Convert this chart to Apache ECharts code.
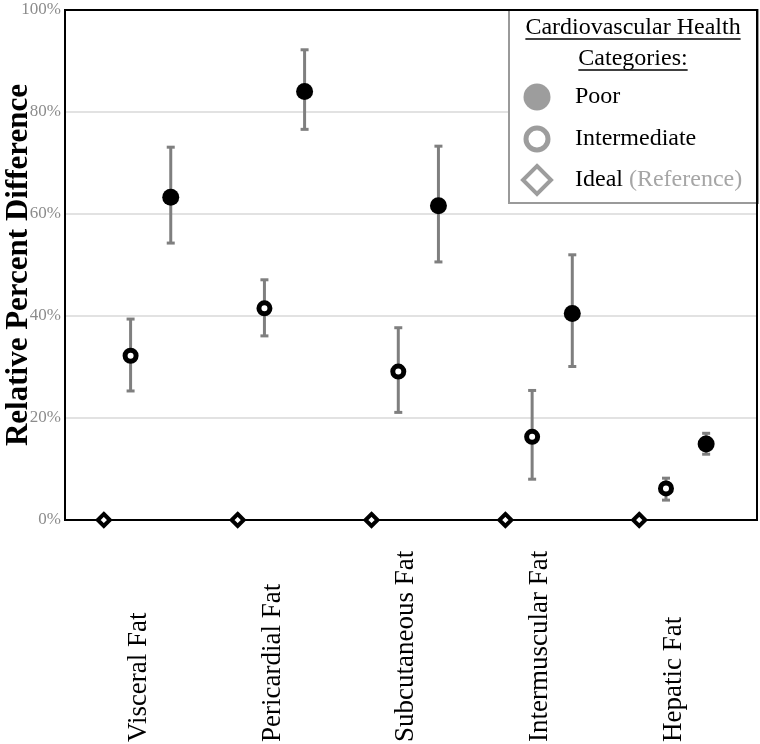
<!DOCTYPE html>
<html>
<head>
<meta charset="utf-8">
<script src="https://cdn.jsdelivr.net/npm/echarts@6/dist/echarts.min.js"></script>
<style>
  html, body { margin: 0; padding: 0; background: #fff; }
  #chart { width: 760px; height: 744px; }
</style>
</head>
<body>
<div id="chart"></div>
<script>
// data
const categories = ['Visceral Fat', 'Pericardial Fat', 'Subcutaneous Fat', 'Intermuscular Fat', 'Hepatic Fat'];
const idealValues = [0, 0, 0, 0, 0];
const intermediateValues = [32.2, 41.5, 29.1, 16.3, 6.2];
const intermediateLower = [25.3, 36.1, 21.1, 8.0, 3.9];
const intermediateUpper = [39.4, 47.1, 37.7, 25.4, 8.2];
const poorValues = [63.3, 84.0, 61.6, 40.5, 14.9];
const poorLower = [54.3, 76.6, 50.6, 30.1, 12.9];
const poorUpper = [73.1, 92.2, 73.3, 52.0, 17.0];
const yTicks = [0, 20, 40, 60, 80, 100];

// dodge offsets inside each category group
const offsetIdeal = 0;
const offsetIntermediate = 0.2;
const offsetPoor = 0.5;
const offsetLabel = 0.26;

const serif = "'Liberation Serif', 'Times New Roman', serif";
const barGray = '#7f7f7f';

const chart = echarts.init(document.getElementById('chart'), null, { renderer: 'canvas' });

function points(values, offset) {
    return values.map((v, i) => [i + offset, v]);
}

function bars(lower, upper, offset) {
    return lower.map((lo, i) => [i + offset, lo, upper[i]]);
}

function renderErrorBar(params, api) {
    const x = api.value(0);
    const lo = api.coord([x, api.value(1)]);
    const hi = api.coord([x, api.value(2)]);
    const cap = 4;
    const style = { stroke: barGray, lineWidth: 3 };
    return {
        type: 'group',
        children: [
            { type: 'line', shape: { x1: lo[0], y1: lo[1], x2: hi[0], y2: hi[1] }, style: style },
            { type: 'line', shape: { x1: lo[0] - cap, y1: lo[1], x2: lo[0] + cap, y2: lo[1] }, style: style },
            { type: 'line', shape: { x1: hi[0] - cap, y1: hi[1], x2: hi[0] + cap, y2: hi[1] }, style: style }
        ]
    };
}

// legend drawn by hand (gray icons, underlined title)
const measure = document.createElement('canvas').getContext('2d');
function textWidth(str, font) {
    measure.font = font;
    return measure.measureText(str).width;
}
const legendFont = '24px ' + serif;
const legendX = 508, legendY = 9, legendW = 249, legendH = 193;
const titleCx = 633;
const title1 = 'Cardiovascular Health';
const title2 = 'Categories:';
const w1 = textWidth(title1, legendFont);
const w2 = textWidth(title2, legendFont);
const iconX = 537, textX = 575;
const rowY = [97, 139, 180];

const legendGraphic = [
    {
        type: 'rect', left: legendX, top: legendY, z: 50,
        shape: { width: legendW, height: legendH },
        style: { fill: '#fff', stroke: '#9a9a9a', lineWidth: 2 }
    },
    {
        type: 'text', x: titleCx, y: 28, z: 51,
        style: { text: title1, font: legendFont, fill: '#000', align: 'center', verticalAlign: 'middle' }
    },
    {
        type: 'line', z: 51,
        shape: { x1: titleCx - w1 / 2, y1: 39, x2: titleCx + w1 / 2, y2: 39 },
        style: { stroke: '#000', lineWidth: 1.5 }
    },
    {
        type: 'text', x: titleCx, y: 59, z: 51,
        style: { text: title2, font: legendFont, fill: '#000', align: 'center', verticalAlign: 'middle' }
    },
    {
        type: 'line', z: 51,
        shape: { x1: titleCx - w2 / 2, y1: 70, x2: titleCx + w2 / 2, y2: 70 },
        style: { stroke: '#000', lineWidth: 1.5 }
    },
    {
        type: 'circle', z: 51,
        shape: { cx: iconX, cy: rowY[0], r: 13.5 },
        style: { fill: '#9d9d9d' }
    },
    {
        type: 'text', x: textX, y: rowY[0], z: 51,
        style: { text: 'Poor', font: legendFont, fill: '#000', verticalAlign: 'middle' }
    },
    {
        type: 'circle', z: 51,
        shape: { cx: iconX, cy: rowY[1], r: 11 },
        style: { fill: '#fff', stroke: '#9d9d9d', lineWidth: 5 }
    },
    {
        type: 'text', x: textX, y: rowY[1], z: 51,
        style: { text: 'Intermediate', font: legendFont, fill: '#000', verticalAlign: 'middle' }
    },
    {
        type: 'polygon', z: 51,
        shape: { points: [[iconX, rowY[2] - 14], [iconX + 14, rowY[2]], [iconX, rowY[2] + 14], [iconX - 14, rowY[2]]] },
        style: { fill: '#fff', stroke: '#9d9d9d', lineWidth: 4 }
    },
    {
        type: 'text', x: textX, y: rowY[2], z: 51,
        style: {
            text: '{a|Ideal} {b|(Reference)}', font: legendFont, verticalAlign: 'middle',
            rich: {
                a: { font: legendFont, fill: '#000' },
                b: { font: legendFont, fill: '#a6a6a6' }
            }
        }
    }
];

const option = {
    animation: false,
    backgroundColor: '#fff',
    grid: {
        left: 65, right: 3, top: 10, bottom: 224,
        containLabel: false,
        outerBoundsMode: 'none',
        show: true, borderColor: '#000', borderWidth: 2, z: 60
    },
    xAxis: {
        type: 'value',
        min: -0.29,
        max: 4.88,
        axisLine: { show: true, onZero: false, lineStyle: { color: '#000', width: 2 } },
        axisTick: { show: false },
        splitLine: { show: false },
        axisLabel: {
            customValues: categories.map((c, i) => i + offsetLabel),
            formatter: v => categories[Math.round(v - offsetLabel)],
            rotate: 90,
            align: 'left',
            verticalAlign: 'middle',
            margin: 222,
            color: '#000',
            fontFamily: serif,
            fontSize: 27
        }
    },
    yAxis: {
        type: 'value',
        min: yTicks[0],
        max: yTicks[yTicks.length - 1],
        interval: 20,
        name: 'Relative Percent Difference',
        nameLocation: 'middle',
        nameGap: 31,
        nameMoveOverlap: false,
        nameTextStyle: { fontFamily: serif, fontWeight: 'bold', fontSize: 31, color: '#000' },
        axisLine: { show: true, onZero: false, lineStyle: { color: '#000', width: 2 } },
        axisTick: { show: false },
        splitLine: { show: true, lineStyle: { color: '#d9d9d9', width: 1.5 } },
        axisLabel: {
            formatter: '{value}%',
            color: '#8c8c8c',
            fontFamily: serif,
            fontSize: 17,
            margin: 4
        }
    },
    series: [
        {
            name: 'Intermediate CI',
            type: 'custom',
            renderItem: renderErrorBar,
            encode: { x: 0, y: [1, 2] },
            data: bars(intermediateLower, intermediateUpper, offsetIntermediate),
            z: 2
        },
        {
            name: 'Poor CI',
            type: 'custom',
            renderItem: renderErrorBar,
            encode: { x: 0, y: [1, 2] },
            data: bars(poorLower, poorUpper, offsetPoor),
            z: 2
        },
        {
            name: 'Poor',
            type: 'scatter',
            symbol: 'circle',
            symbolSize: 17,
            itemStyle: { color: '#000', opacity: 1 },
            data: points(poorValues, offsetPoor),
            z: 3
        },
        {
            name: 'Intermediate',
            type: 'scatter',
            symbol: 'circle',
            symbolSize: 11,
            itemStyle: { color: '#fff', borderColor: '#000', borderWidth: 5, opacity: 1 },
            data: points(intermediateValues, offsetIntermediate),
            z: 3
        },
        {
            name: 'Ideal (Reference)',
            type: 'scatter',
            symbol: 'diamond',
            symbolSize: 12,
            clip: false,
            itemStyle: { color: '#fff', borderColor: '#000', borderWidth: 4, opacity: 1 },
            data: points(idealValues, offsetIdeal),
            z: 70
        }
    ],
    graphic: legendGraphic
};

chart.setOption(option);
</script>
</body>
</html>
